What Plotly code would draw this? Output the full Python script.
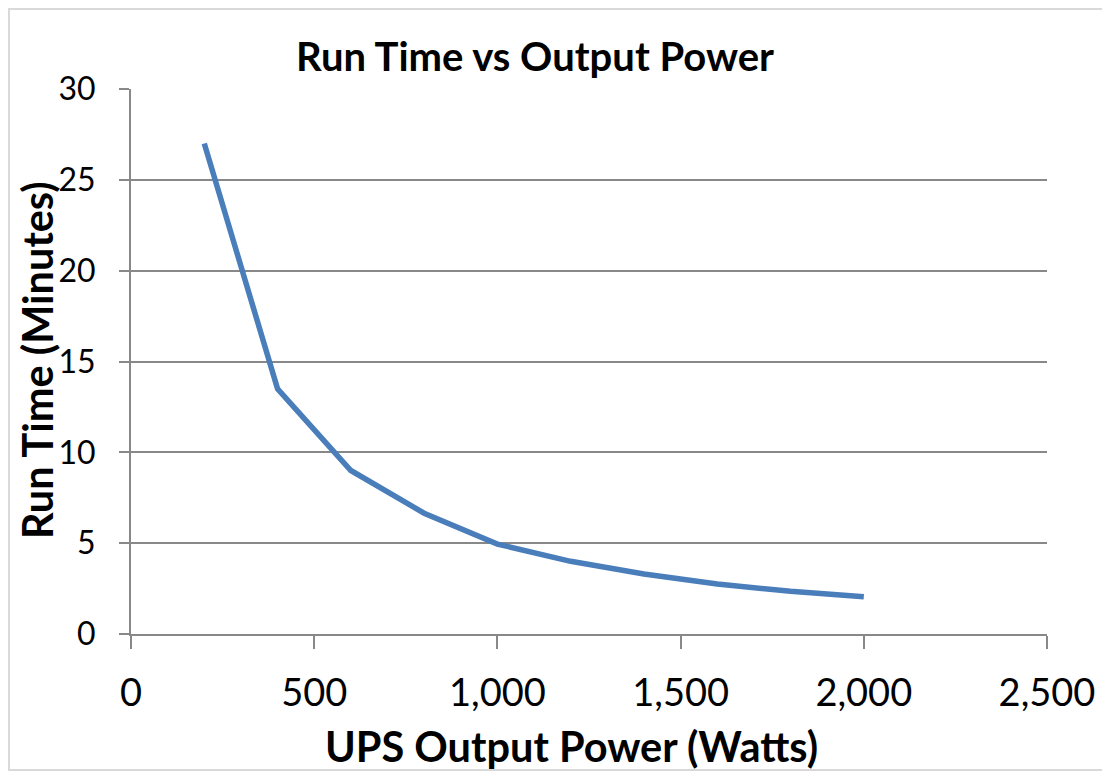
import plotly.graph_objects as go

power_watts = [200, 400, 600, 800, 1000, 1200, 1400, 1600, 1800, 2000]
run_time_min = [27.0, 13.5, 9.0, 6.65, 4.95, 4.0, 3.3, 2.75, 2.35, 2.05]

x_ticks = [0, 500, 1000, 1500, 2000, 2500]
x_tick_text = ["0", "500", "1,000", "1,500", "2,000", "2,500"]
y_ticks = [0, 5, 10, 15, 20, 25, 30]

FONT = "Lato, 'Open Sans', sans-serif"
# page has an 8px body margin; figure size compensates
W, H = 1102, 765
L, T = 123, 81
pw, ph = 916, 545
R, B = W - L - pw, H - T - ph

def px_x(fx):
    return (fx - L) / pw

def px_y(fy):
    return (ph - (fy - T)) / ph

fig = go.Figure()
fig.add_trace(go.Scatter(
    x=power_watts, y=run_time_min, mode="lines",
    line=dict(color="#4a7ebb", width=5.5),
    showlegend=False, hoverinfo="x+y",
))

fig.update_layout(
    width=W, height=H,
    margin=dict(l=L, r=R, t=T, b=B),
    paper_bgcolor="white", plot_bgcolor="white",
    font=dict(family=FONT, color="black", size=32),
    title=dict(text="<b>Run Time vs Output Power</b>", x=527 / W, xanchor="center",
               y=1 - 49 / H, yanchor="middle", font=dict(size=40, family=FONT)),
    xaxis=dict(
        range=[0, 2500], tickvals=x_ticks, ticktext=x_tick_text,
        showgrid=False, zeroline=False,
        showline=True, linecolor="#888888", linewidth=2,
        ticks="outside", ticklen=13, tickcolor="#888888", tickwidth=2,
        tickfont=dict(size=38), ticklabelstandoff=11,
    ),
    yaxis=dict(
        range=[0, 30], tickvals=y_ticks,
        showgrid=True, gridcolor="#888888", gridwidth=2,
        zeroline=False,
        showline=True, linecolor="#888888", linewidth=2,
        ticks="outside", ticklen=10, tickcolor="#888888", tickwidth=2,
        tickfont=dict(size=32), ticklabelstandoff=17,
    ),
    annotations=[
        dict(text="<b>UPS Output Power (Watts)</b>", xref="paper", yref="paper",
             x=px_x(563), y=px_y(738), xanchor="center", yanchor="middle",
             showarrow=False, font=dict(size=41.5, family=FONT)),
        dict(text="<b>Run Time (Minutes)</b>", xref="paper", yref="paper",
             x=px_x(29), y=px_y(352), xanchor="center", yanchor="middle",
             textangle=-90, showarrow=False, font=dict(size=41.5, family=FONT)),
    ],
)

fig.add_shape(
    type="rect", xref="paper", yref="paper",
    x0=px_x(1), x1=px_x(1110), y0=px_y(762), y1=px_y(1),
    line=dict(color="#d9d9d9", width=2), fillcolor="rgba(0,0,0,0)", layer="below",
)

fig.write_html("out.html")
